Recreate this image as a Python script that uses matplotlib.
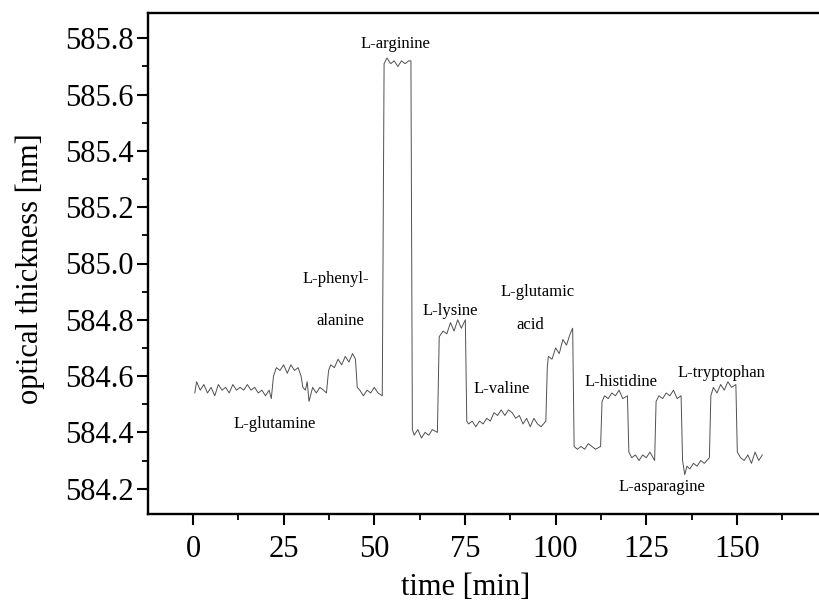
import matplotlib
matplotlib.use("Agg")
import matplotlib.pyplot as plt
from matplotlib.ticker import MultipleLocator

plt.rcParams["font.family"] = ["Liberation Serif", "DejaVu Serif"]

# time [min] and optical thickness [nm]
t_min = [
    0.5, 1, 2, 3, 4, 5, 6, 7, 8, 9, 10, 11, 12, 13, 14, 15, 16, 17, 18, 19, 20, 21, 21.6,
    22.2, 23, 24, 25, 26, 27, 28, 29, 29.8,
    30.3, 31, 31.5, 32, 33, 34, 35, 36, 36.8,
    37.4, 38, 39, 40, 41, 42, 43, 44, 44.8,
    45.3, 46, 47, 48, 49, 50, 51, 52.2,
    52.7, 53.5, 54.5, 55.5, 56.5, 57.5, 58.5, 59.5, 60.1,
    60.5, 61, 62, 63, 64, 65, 66, 67.4,
    67.9, 69, 70, 71, 72, 73, 74, 75.1,
    75.5, 76, 77, 78, 79, 80, 81, 82, 83, 84, 85, 86, 87, 88, 89, 90, 91, 92, 93, 94, 95, 96, 97.3,
    97.7, 98, 99, 100, 101, 102, 103, 104, 104.7,
    105.1, 106, 107, 108, 109, 110, 111, 112.4,
    112.8, 113.5, 114.5, 115.5, 116.5, 117.5, 118.5, 119.8,
    120.2, 121, 122, 123, 124, 125, 126, 127.3,
    127.7, 128.5, 129.5, 130.5, 131.5, 132.5, 133.5, 134.6,
    135.0, 135.6, 136.2, 137, 138, 139, 140, 141, 142.4,
    142.8, 143.5, 144.5, 145.5, 146.5, 147.5, 148.5, 149.7,
    150.1, 151, 152, 153, 154, 155, 156, 157,
]
thickness_nm = [
    584.54, 584.58, 584.55, 584.57, 584.54, 584.56, 584.53, 584.57, 584.55, 584.56, 584.54, 584.57, 584.55, 584.56, 584.55, 584.57, 584.55, 584.56, 584.54, 584.55, 584.53, 584.55, 584.52,
    584.60, 584.63, 584.62, 584.64, 584.61, 584.64, 584.62, 584.63, 584.60,
    584.56, 584.55, 584.58, 584.51, 584.56, 584.54, 584.56, 584.55, 584.54,
    584.62, 584.64, 584.63, 584.66, 584.64, 584.67, 584.65, 584.68, 584.66,
    584.56, 584.55, 584.53, 584.55, 584.54, 584.56, 584.54, 584.53,
    585.71, 585.73, 585.71, 585.72, 585.70, 585.72, 585.71, 585.72, 585.72,
    584.41, 584.39, 584.41, 584.38, 584.40, 584.39, 584.41, 584.40,
    584.74, 584.76, 584.75, 584.79, 584.76, 584.80, 584.77, 584.80,
    584.44, 584.43, 584.44, 584.42, 584.44, 584.43, 584.45, 584.44, 584.47, 584.46, 584.48, 584.46, 584.48, 584.47, 584.45, 584.46, 584.43, 584.45, 584.42, 584.45, 584.43, 584.42, 584.44,
    584.63, 584.67, 584.66, 584.70, 584.68, 584.73, 584.71, 584.75, 584.77,
    584.35, 584.34, 584.35, 584.34, 584.36, 584.35, 584.34, 584.35,
    584.51, 584.53, 584.52, 584.54, 584.53, 584.55, 584.52, 584.53,
    584.33, 584.31, 584.32, 584.30, 584.32, 584.31, 584.33, 584.30,
    584.51, 584.53, 584.52, 584.54, 584.53, 584.55, 584.52, 584.53,
    584.30, 584.25, 584.28, 584.27, 584.29, 584.28, 584.30, 584.29, 584.31,
    584.53, 584.56, 584.54, 584.57, 584.55, 584.58, 584.56, 584.57,
    584.33, 584.31, 584.30, 584.32, 584.29, 584.33, 584.30, 584.32,
]

# amino acid labels: text, x [min], y [nm]
label_text = ["L-glutamine", "L-phenyl-", "alanine", "L-arginine", "L-lysine", "L-valine",
              "L-glutamic", "acid", "L-histidine", "L-asparagine", "L-tryptophan"]
label_x = [22.6, 39.5, 40.5, 55.7, 71.0, 85.0, 95.0, 93.0, 118.0, 129.4, 145.6]
label_y = [584.43, 584.945, 584.795, 585.78, 584.83, 584.555, 584.90, 584.78, 584.58, 584.205, 584.61]

fig = plt.figure(figsize=(8.2, 6.05), dpi=100)
ax = fig.add_axes([148 / 820, 1 - 514 / 605, 1 - 148 / 820, 501 / 605])

ax.plot(t_min, thickness_nm, color="#505050", lw=0.7)

for txt, x, y in zip(label_text, label_x, label_y):
    ax.text(x, y, txt, ha="center", va="center", fontsize=12)

ax.set_xlim(-12.4, 172.9)
ax.set_ylim(584.11, 585.89)
ax.xaxis.set_major_locator(MultipleLocator(25))
ax.xaxis.set_minor_locator(MultipleLocator(12.5))
ax.yaxis.set_major_locator(MultipleLocator(0.2))
ax.yaxis.set_minor_locator(MultipleLocator(0.1))
ax.yaxis.set_major_formatter(plt.FormatStrFormatter("%.1f"))

ax.spines["right"].set_visible(False)
for s in ["left", "top", "bottom"]:
    ax.spines[s].set_linewidth(1.7)

ax.tick_params(which="major", direction="out", length=8, width=1.5, labelsize=22)
ax.tick_params(which="minor", direction="out", length=4, width=1.3)
ax.tick_params(axis="x", which="major", pad=7)
ax.tick_params(axis="y", which="major", pad=2)

ax.set_xlabel("time [min]", fontsize=22)
ax.set_ylabel("optical thickness [nm]", fontsize=22)
ax.xaxis.set_label_coords(0.472, -0.118)
ax.yaxis.set_label_coords(-0.153, 0.49)

fig.savefig("out.png", dpi=100)
